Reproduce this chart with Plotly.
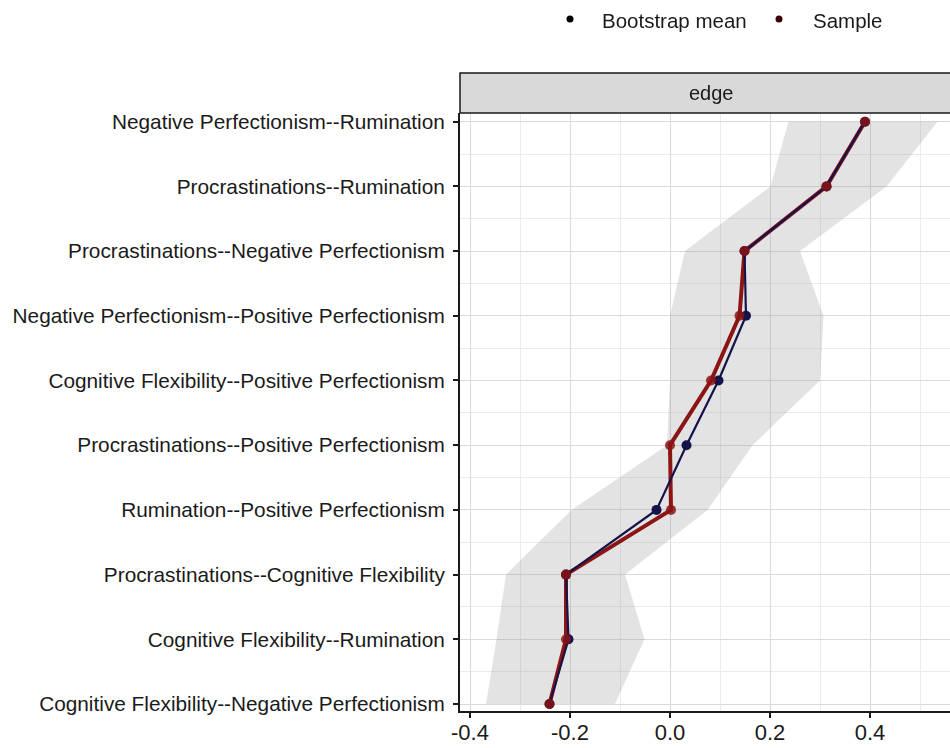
import plotly.graph_objects as go

# Edges, listed bottom to top
edges = [
    "Cognitive Flexibility--Negative Perfectionism",
    "Cognitive Flexibility--Rumination",
    "Procrastinations--Cognitive Flexibility",
    "Rumination--Positive Perfectionism",
    "Procrastinations--Positive Perfectionism",
    "Cognitive Flexibility--Positive Perfectionism",
    "Negative Perfectionism--Positive Perfectionism",
    "Procrastinations--Negative Perfectionism",
    "Procrastinations--Rumination",
    "Negative Perfectionism--Rumination",
]
sample = [-0.241, -0.208, -0.208, 0.002, 0.0, 0.082, 0.139, 0.149, 0.313, 0.39]
boot_mean = [-0.241, -0.203, -0.208, -0.027, 0.033, 0.097, 0.152, 0.149, 0.313, 0.39]
ci_lower = [-0.368, -0.347, -0.328, -0.197, -0.006, 0.0, 0.0, 0.03, 0.201, 0.237]
ci_upper = [-0.11, -0.051, -0.09, 0.075, 0.165, 0.30, 0.307, 0.26, 0.433, 0.535]
x_ticks = [-0.4, -0.2, 0.0, 0.2, 0.4]
x_ticktext = ["-0.4", "-0.2", "0.0", "0.2", "0.4"]
legend_names = ["Bootstrap mean", "Sample"]
legend_colors = ["black", "#3d0000"]

pos = list(range(1, len(edges) + 1))
FONT = "Liberation Sans, Arial, sans-serif"
RED = "#8b1414"
NAVY = "#14144a"
TXT = "#1a1a1a"

fig = go.Figure()

# CI ribbon
fig.add_trace(go.Scatter(
    x=ci_lower + ci_upper[::-1], y=pos + pos[::-1],
    fill="toself", fillcolor="rgba(150,150,150,0.27)",
    line=dict(width=0), mode="lines", hoverinfo="skip", showlegend=False))

# Sample line (thick red)
fig.add_trace(go.Scatter(x=sample, y=pos, mode="lines",
                         line=dict(color=RED, width=4), showlegend=False))
# Bootstrap mean line (thin navy)
fig.add_trace(go.Scatter(x=boot_mean, y=pos, mode="lines",
                         line=dict(color=NAVY, width=2.2), showlegend=False))
# Markers
fig.add_trace(go.Scatter(x=boot_mean, y=pos, mode="markers",
                         marker=dict(color=NAVY, size=10), showlegend=False))
fig.add_trace(go.Scatter(x=sample, y=pos, mode="markers", opacity=0.85,
                         marker=dict(color=RED, size=10), showlegend=False))

W, H = 950, 748
ml, mr, mt, mb = 460, 0, 73, 37
plot_w = W - ml - mr
plot_h = H - mt - mb
panel_top_px = 113
dom_top = (H - mb - panel_top_px) / plot_h


def px_x(px):
    return (px - ml) / plot_w


def px_y(py):
    return (H - mb - py) / plot_h


fig.update_layout(
    width=W, height=H,
    margin=dict(l=ml, r=mr, t=mt, b=mb),
    paper_bgcolor="white", plot_bgcolor="white",
    font=dict(family=FONT, color=TXT, size=18),
    showlegend=False,
    xaxis=dict(range=[-0.42, 0.56], tickmode="array", tickvals=x_ticks, ticktext=x_ticktext,
               showgrid=True, gridcolor="#dadada", gridwidth=1, zeroline=False,
               showline=True, linecolor=TXT, linewidth=2,
               ticks="outside", ticklen=5, tickcolor=TXT, tickwidth=1.5,
               tickfont=dict(size=22, color=TXT), ticklabelstandoff=-4,
               minor=dict(dtick=0.1, tick0=0.1, showgrid=True, gridcolor="#ebebeb", gridwidth=1)),
    yaxis=dict(range=[0.892, 10.134], domain=[0, dom_top],
               tickmode="array", tickvals=pos, ticktext=edges,
               showgrid=True, gridcolor="#dadada", gridwidth=1, zeroline=False,
               showline=True, linecolor=TXT, linewidth=2,
               ticks="outside", ticklen=5, tickcolor=TXT, tickwidth=1.5,
               tickfont=dict(size=20.8, color=TXT), ticklabelstandoff=4,
               minor=dict(tickmode="array", tickvals=[p + 0.5 for p in pos[:-1]],
                          showgrid=True, gridcolor="#ebebeb", gridwidth=1)),
)

# Facet strip
fig.add_shape(type="rect", xref="paper", yref="paper", x0=0, x1=1.01, y0=dom_top, y1=1,
              fillcolor="#d9d9d9", line=dict(color=TXT, width=1.5), layer="above")
fig.add_annotation(text="edge", xref="paper", yref="paper", x=px_x(711),
                   y=(dom_top + 1) / 2, xanchor="center", yanchor="middle",
                   showarrow=False, font=dict(size=20, color=TXT))

# Manual legend at top
legend_dot_px = [570, 779]
legend_text_px = [600, 811]
for name, col, dx, tx in zip(legend_names, legend_colors, legend_dot_px, legend_text_px):
    fig.add_shape(type="circle", xref="paper", yref="paper",
                  xsizemode="pixel", ysizemode="pixel",
                  xanchor=px_x(dx), yanchor=px_y(19),
                  x0=-3.5, x1=3.5, y0=-3.5, y1=3.5,
                  fillcolor=col, line=dict(width=0))
    fig.add_annotation(text=name, xref="paper", yref="paper", x=px_x(tx), y=px_y(20),
                       xanchor="left", yanchor="middle", showarrow=False,
                       font=dict(size=20.5, color=TXT))

fig.write_html("out.html")
